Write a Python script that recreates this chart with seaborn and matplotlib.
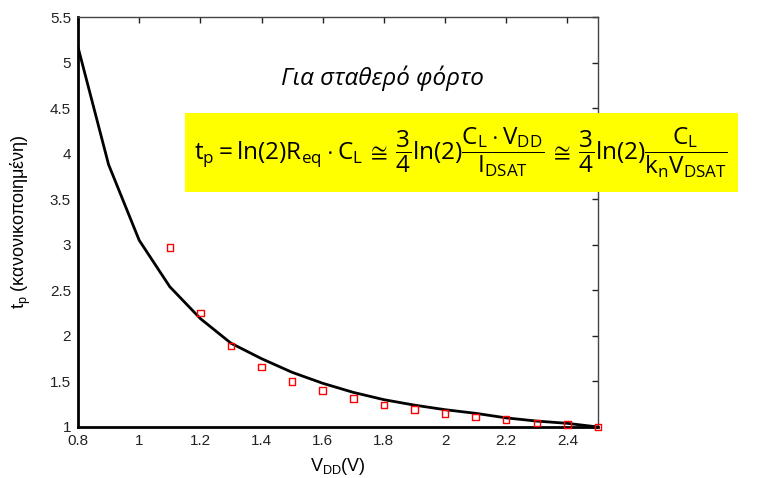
import pandas as pd
import matplotlib.pyplot as plt
import seaborn as sns
from matplotlib.patches import Rectangle

# Model curve (solid line) and measured points (red squares)
vdd_line = [0.8, 0.9, 1.0, 1.1, 1.2, 1.3, 1.4, 1.5, 1.6, 1.7, 1.8, 1.9, 2.0, 2.1, 2.2, 2.3, 2.4, 2.5]
tp_line = [5.17, 3.88, 3.05, 2.54, 2.19, 1.92, 1.75, 1.60, 1.48, 1.38, 1.30, 1.24, 1.19, 1.15, 1.10, 1.065, 1.04, 1.0]
vdd_pts = [1.1, 1.2, 1.3, 1.4, 1.5, 1.6, 1.7, 1.8, 1.9, 2.0, 2.1, 2.2, 2.3, 2.4, 2.5]
tp_pts = [2.97, 2.25, 1.89, 1.66, 1.50, 1.40, 1.31, 1.24, 1.19, 1.15, 1.11, 1.08, 1.045, 1.03, 1.0]
xticks = [0.8, 1, 1.2, 1.4, 1.6, 1.8, 2, 2.2, 2.4]
yticks = [1, 1.5, 2, 2.5, 3, 3.5, 4, 4.5, 5, 5.5]


def plot_tp(line_df: pd.DataFrame, pts_df: pd.DataFrame) -> None:
    sns.set_style('white')
    plt.rcParams['font.family'] = ['Liberation Sans', 'DejaVu Sans']
    plt.rcParams['mathtext.fontset'] = 'custom'
    plt.rcParams['mathtext.rm'] = 'Open Sans'
    plt.rcParams['mathtext.it'] = 'Open Sans'

    fig = plt.figure(figsize=(7.7, 4.78), dpi=100)
    ax = fig.add_axes([0.1013, 0.1067, 0.6753, 0.8577])

    sns.lineplot(data=line_df, x='vdd', y='tp', color='black', linewidth=2, ax=ax)
    sns.scatterplot(data=pts_df, x='vdd', y='tp', marker='s', s=22, facecolor='none',
                    edgecolor='red', linewidth=1, ax=ax, clip_on=False, zorder=5)

    ax.set_xlim(0.8, 2.5)
    ax.set_ylim(1, 5.5)
    ax.set_xticks(xticks)
    ax.set_xticklabels([f'{v:g}' for v in xticks])
    ax.set_yticks(yticks)
    ax.set_yticklabels([f'{v:g}' for v in yticks])
    ax.tick_params(direction='in', top=True, right=True, length=4, width=1,
                   labelsize=11, colors='#222222', pad=5)

    for side in ['left', 'bottom']:
        ax.spines[side].set_linewidth(2)
        ax.spines[side].set_color('black')
    for side in ['top', 'right']:
        ax.spines[side].set_linewidth(1)
        ax.spines[side].set_color('#444444')

    ax.set_xlabel(r'V$_{\mathregular{DD}}$(V)', fontsize=13, labelpad=6, color='black')
    ax.set_ylabel(r't$_{\mathregular{p}}$ (κανονικοποιημένη)', fontsize=13, labelpad=12,
                  color='black')

    fig.text(0.497, 0.837, 'Για σταθερό φόρτο', fontsize=17.5, style='italic',
             family=['Open Sans', 'DejaVu Sans'], ha='center', va='center', color='black')

    fig.add_artist(Rectangle((0.240, 0.598), 0.718, 0.166, transform=fig.transFigure,
                             facecolor='#ffff00', edgecolor='none', zorder=3))
    formula = (r'$\mathrm{t_p = ln(2)R_{eq}\cdot C_L\, \cong\, \dfrac{3}{4}ln(2)'
               r'\dfrac{C_L\cdot V_{DD}}{I_{DSAT}}\, \cong\, \dfrac{3}{4}ln(2)'
               r'\dfrac{C_L}{k_n V_{DSAT}}}$')
    fig.text(0.598, 0.681, formula, fontsize=17.5, ha='center', va='center', zorder=4,
             color='black')

    fig.savefig('out.png', dpi=100)


def main() -> None:
    line_df = pd.DataFrame({'vdd': vdd_line, 'tp': tp_line})
    pts_df = pd.DataFrame({'vdd': vdd_pts, 'tp': tp_pts})
    plot_tp(line_df, pts_df)


if __name__ == '__main__':
    main()
